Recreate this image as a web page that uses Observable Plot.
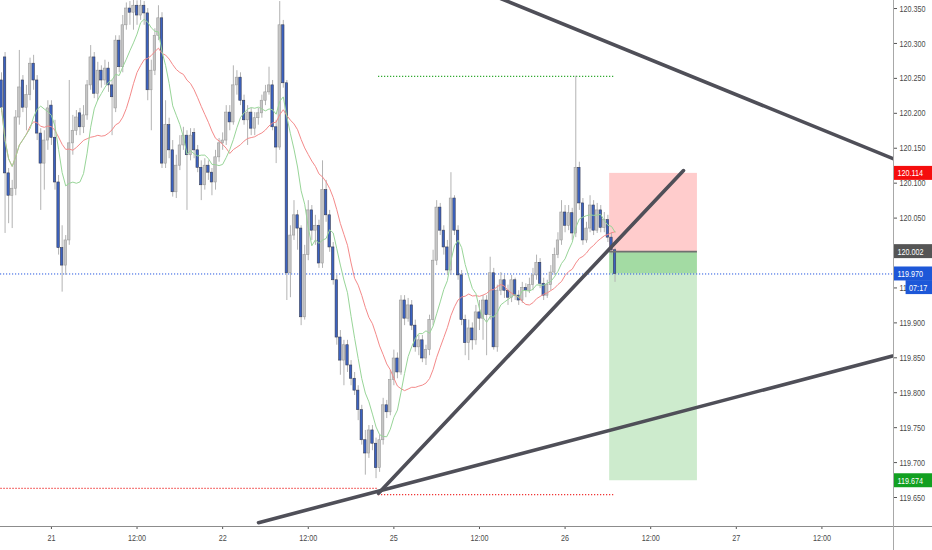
<!DOCTYPE html>
<html>
<head>
<meta charset="utf-8">
<script src="https://cdn.jsdelivr.net/npm/d3@7"></script>
<script src="https://cdn.jsdelivr.net/npm/@observablehq/plot@0.6"></script>
<style>
  html, body { margin: 0; padding: 0; background: #ffffff; }
  #chart { width: 932px; height: 550px; }
</style>
</head>
<body>
<div id="chart"></div>
<script>
// ---- 30-minute OHLC bars (bar index 0..172) ----
const open = [
120.247,120.280,120.114,120.082,120.092,120.194,120.247,120.208,120.226,120.271,
120.247,120.171,120.128,120.161,120.211,120.165,120.101,120.007,119.982,120.018,
120.157,120.175,120.200,120.180,120.197,120.240,120.280,120.228,120.261,120.247,
120.264,120.240,120.207,120.304,120.266,120.326,120.350,120.344,120.354,120.340,
120.354,120.343,120.233,120.261,120.311,120.336,120.128,120.183,120.147,120.087,
120.125,120.154,120.168,120.140,120.172,120.147,120.122,120.097,120.125,120.115,
120.101,120.137,120.157,120.161,120.201,120.187,120.240,120.251,120.218,120.190,
120.201,120.178,120.193,120.200,120.218,120.230,120.240,120.180,120.151,120.326,
120.243,119.971,120.025,120.054,120.035,119.908,119.997,120.061,120.032,120.039,
119.985,120.090,120.054,120.008,119.961,119.879,119.846,119.868,119.839,119.820,
119.803,119.775,119.732,119.713,119.746,119.727,119.692,119.732,119.782,119.772,
119.818,119.849,119.829,119.932,119.906,119.925,119.896,119.865,119.875,119.849,
119.861,119.904,119.989,120.065,120.032,120.008,119.975,120.078,120.032,119.968,
119.904,119.871,119.892,119.875,119.915,119.906,119.932,119.911,119.971,119.865,
119.946,119.961,119.946,119.936,119.961,119.939,119.932,119.950,119.946,119.954,
119.968,119.986,119.956,119.939,119.954,119.972,119.997,120.018,120.058,120.039,
120.057,120.028,120.122,120.071,120.018,120.035,120.068,120.032,120.061,120.036,
120.047,120.022,120.004];
const high = [
120.258,120.287,120.121,120.104,120.204,120.290,120.254,120.240,120.279,120.283,
120.254,120.178,120.175,120.218,120.218,120.190,120.111,120.039,120.025,120.247,
120.197,120.204,120.207,120.211,120.247,120.297,120.287,120.273,120.268,120.276,
120.273,120.247,120.311,120.311,120.340,120.358,120.360,120.362,120.361,120.362,
120.360,120.350,120.276,120.321,120.354,120.344,120.218,120.193,120.161,120.140,
120.168,120.180,120.175,120.178,120.178,120.154,120.132,120.135,120.132,120.121,
120.147,120.164,120.172,120.211,120.211,120.268,120.261,120.258,120.226,120.211,
120.207,120.201,120.207,120.226,120.240,120.266,120.247,120.190,120.360,120.333,
120.247,120.039,120.075,120.061,120.039,120.011,120.075,120.068,120.054,120.047,
120.132,120.104,120.061,120.015,119.968,119.889,119.875,119.875,119.846,119.829,
119.810,119.782,119.746,119.753,119.753,119.735,119.739,119.792,119.789,119.832,
119.861,119.857,119.939,119.939,119.935,119.932,119.904,119.882,119.882,119.868,
119.911,120.004,120.075,120.071,120.039,120.018,120.115,120.082,120.039,119.975,
119.911,119.904,119.900,119.925,119.932,119.939,119.939,119.994,119.978,119.954,
119.972,119.968,119.954,119.968,119.964,119.946,119.958,119.956,119.964,119.978,
119.997,119.992,119.964,119.961,119.982,120.007,120.029,120.075,120.068,120.068,
120.064,120.253,120.130,120.078,120.044,120.082,120.075,120.071,120.068,120.058,
120.054,120.029,120.007];
const low = [
120.201,120.028,120.042,120.035,120.082,120.183,120.201,120.175,120.218,120.233,
120.161,120.061,120.090,120.147,120.154,120.090,119.997,119.944,119.968,120.011,
120.140,120.168,120.168,120.171,120.190,120.233,120.221,120.218,120.236,120.240,
120.230,120.168,120.201,120.258,120.258,120.319,120.326,120.319,120.326,120.333,
120.326,120.218,120.175,120.254,120.304,120.121,120.121,120.135,120.080,120.078,
120.118,120.147,120.061,120.132,120.135,120.115,120.075,120.090,120.104,120.082,
120.090,120.130,120.147,120.154,120.175,120.183,120.226,120.211,120.183,120.154,
120.168,120.168,120.183,120.193,120.211,120.226,120.175,120.128,120.147,120.236,
119.932,119.936,120.018,120.004,119.896,119.904,119.989,120.018,120.011,119.978,
119.978,120.044,120.001,119.954,119.868,119.825,119.810,119.829,119.810,119.796,
119.760,119.725,119.682,119.706,119.717,119.677,119.686,119.725,119.763,119.767,
119.810,119.820,119.825,119.896,119.901,119.889,119.858,119.853,119.843,119.839,
119.853,119.896,119.982,120.025,119.997,119.968,119.968,120.025,119.961,119.896,
119.853,119.846,119.861,119.868,119.889,119.875,119.853,119.904,119.861,119.858,
119.939,119.935,119.925,119.929,119.932,119.925,119.928,119.936,119.942,119.946,
119.961,119.949,119.932,119.935,119.946,119.968,119.992,120.011,120.029,120.032,
120.018,120.022,120.061,120.011,120.014,120.029,120.025,120.028,120.029,120.029,
120.015,119.997,119.958];
const close = [
120.208,120.114,120.082,120.092,120.194,120.237,120.208,120.226,120.271,120.247,
120.171,120.128,120.161,120.207,120.165,120.101,120.007,119.982,120.018,120.157,
120.175,120.194,120.180,120.197,120.240,120.280,120.228,120.261,120.247,120.264,
120.240,120.223,120.304,120.266,120.326,120.350,120.344,120.354,120.340,120.354,
120.343,120.233,120.261,120.311,120.336,120.128,120.183,120.147,120.087,120.125,
120.154,120.168,120.140,120.168,120.147,120.122,120.097,120.125,120.115,120.101,
120.137,120.157,120.161,120.201,120.187,120.240,120.251,120.218,120.190,120.201,
120.178,120.193,120.200,120.218,120.230,120.240,120.180,120.151,120.326,120.243,
119.971,120.025,120.054,120.035,119.908,119.997,120.061,120.032,120.039,119.985,
120.090,120.054,120.008,119.961,119.879,119.846,119.868,119.839,119.820,119.803,
119.775,119.732,119.713,119.746,119.727,119.692,119.732,119.782,119.772,119.818,
119.849,119.829,119.932,119.906,119.925,119.896,119.865,119.875,119.849,119.861,
119.904,119.989,120.065,120.032,120.008,119.975,120.078,120.032,119.968,119.904,
119.871,119.892,119.875,119.915,119.906,119.932,119.911,119.971,119.865,119.946,
119.961,119.946,119.936,119.961,119.939,119.932,119.950,119.946,119.954,119.968,
119.986,119.956,119.939,119.954,119.972,119.997,120.018,120.058,120.039,120.057,
120.028,120.122,120.071,120.018,120.035,120.068,120.032,120.061,120.036,120.047,
120.022,120.004,119.970];

// ---- axis ticks ----
const xTickBars = [14, 38, 62, 86, 110, 134, 158, 182, 206, 230];
const xTickLabels = ["21", "12:00", "22", "12:00", "25", "12:00", "26", "12:00", "27", "12:00"];
const yTicks = [119.65, 119.70, 119.75, 119.80, 119.85, 119.90, 119.95, 120.00, 120.05, 120.10, 120.15, 120.20, 120.25, 120.30, 120.35];

// ---- drawings: trend lines (bar index, price) ----
const trendUpper = [{bar: 130, price: 120.385}, {bar: 262, price: 120.110}];
const trendRising = [{bar: 105.7, price: 119.656}, {bar: 191.2, price: 120.118}];
const trendLower = [{bar: 72.05, price: 119.614}, {bar: 262, price: 119.869}];

// ---- horizontal level lines ----
const levelHigh = [{price: 120.253, from: 105.7, to: 172.1}];
const levelLow = [{price: 119.663, from: -1, to: 105.7}, {price: 119.654, from: 105.7, to: 172.1}];
const lastPrice = 119.970;

// ---- short position tool ----
const posFrom = 170.5, posTo = 195.1;
const stopPrice = 120.114, entryPrice = 120.002, targetPrice = 119.674;

// ---- price tags on the axis ----
const tagPrices = [120.114, 120.002, 119.970, 119.674];
const tagColors = ["#f50d0d", "#555555", "#1d57d8", "#12a021"];
const countdown = {price: 119.9505, text: "07:17"};

const bars = open.map((o, i) => ({i, open: o, high: high[i], low: low[i], close: close[i], up: close[i] >= o}));
const upBars = bars.filter(d => d.up);
const downBars = bars.filter(d => !d.up);

const xMin = -0.28, xMax = 250.07, xOuter = 261.5;
const half = 0.0100;
const tags = tagPrices.map((p, k) => ({price: p, text: p.toFixed(3), color: tagColors[k]}));
const labelMap = new Map(xTickBars.map((b, k) => [b, xTickLabels[k]]));

const chart = Plot.plot({
  width: 932,
  height: 550,
  marginLeft: 0,
  marginRight: 39,
  marginTop: 0,
  marginBottom: 24,
  style: {fontFamily: "'Liberation Sans', Arial, sans-serif", fontSize: "9.5px", background: "#ffffff", color: "#4a4a4a"},
  x: {domain: [xMin, xMax]},
  y: {domain: [119.6085, 120.3615]},
  marks: [
    // position tool
    Plot.rect([0], {x1: posFrom, x2: posTo, y1: entryPrice, y2: stopPrice, fill: "#ffcccc"}),
    Plot.rect([0], {x1: posFrom, x2: posTo, y1: targetPrice, y2: lastPrice, fill: "#cdebcd"}),
    Plot.rect([0], {x1: posFrom, x2: posTo, y1: lastPrice, y2: entryPrice, fill: "#a3dba3"}),
    // last price line
    Plot.ruleY([lastPrice], {stroke: "#2458e0", strokeWidth: 1, strokeDasharray: "1.2,1.8"}),
    // level lines
    Plot.ruleY(levelHigh, {y: "price", x1: "from", x2: "to", stroke: "#2ea82e", strokeWidth: 1.2, strokeDasharray: "1.2,1.8", clip: true}),
    Plot.ruleY(levelLow, {y: "price", x1: "from", x2: "to", stroke: "#f03030", strokeWidth: 1.2, strokeDasharray: "1.2,1.8", clip: true}),
    // candles
    Plot.ruleX(bars, {x: "i", y1: "low", y2: "high", stroke: "#b3b3b3", strokeWidth: 1, clip: true}),
    Plot.rect(upBars, {x1: d => d.i - 0.34, x2: d => d.i + 0.34, y1: "open", y2: "close", fill: "#c6c6c6", stroke: "#9c9c9c", strokeWidth: 0.6, clip: true}),
    Plot.rect(downBars, {x1: d => d.i - 0.34, x2: d => d.i + 0.34, y1: "open", y2: "close", fill: "#3b62c0", stroke: "#3a3f55", strokeWidth: 0.6, clip: true}),
    // moving averages
    Plot.lineY(bars, Plot.windowY({k: 20, anchor: "end", strict: false}, {x: "i", y: "close", stroke: "#f48a8a", strokeWidth: 1, clip: true})),
    Plot.lineY(bars, Plot.windowY({k: 8, anchor: "end", strict: false}, {x: "i", y: "close", stroke: "#98d598", strokeWidth: 1, clip: true})),
    // entry line of the position tool
    Plot.ruleY([entryPrice], {x1: posFrom, x2: posTo, stroke: "#707070", strokeWidth: 1.6}),
    // trend lines
    Plot.line(trendUpper, {x: "bar", y: "price", stroke: "#4f4f58", strokeWidth: 3.6, clip: true}),
    Plot.line(trendRising, {x: "bar", y: "price", stroke: "#4f4f58", strokeWidth: 3.6, strokeLinecap: "round", clip: true}),
    Plot.line(trendLower, {x: "bar", y: "price", stroke: "#4f4f58", strokeWidth: 3.6, strokeLinecap: "round", clip: true}),
    // axes
    Plot.axisY(yTicks, {anchor: "right", tickFormat: d => d.toFixed(3), tickSize: 3, tickPadding: 3, stroke: "#555", fill: "#4a4a4a"}),
    Plot.axisX(xTickBars, {anchor: "bottom", tickFormat: d => labelMap.get(d), tickSize: 3, tickPadding: 5, stroke: "#555", fill: "#4a4a4a"}),
    // price tags
    Plot.rect(tags, {x1: xMax, x2: xOuter, y1: d => d.price - half, y2: d => d.price + half, fill: d => d.color}),
    Plot.text(tags, {x: xMax, y: "price", text: "text", textAnchor: "start", dx: 4, fill: "#ffffff"}),
    Plot.rect([countdown], {x1: 253.6, x2: xOuter, y1: d => d.price - half, y2: d => d.price + half, fill: "#1d57d8"}),
    Plot.text([countdown], {x: 253.6, y: "price", text: "text", textAnchor: "start", dx: 3, fill: "#ffffff"})
  ]
});

// axis frame lines spanning the whole picture, as in the reference
const svg = d3.select(chart);
svg.append("line").attr("x1", 0).attr("x2", 932).attr("y1", 526.5).attr("y2", 526.5).attr("stroke", "#8c8c8c").attr("stroke-width", 1);
svg.append("line").attr("x1", 893.5).attr("x2", 893.5).attr("y1", 0).attr("y2", 550).attr("stroke", "#a8a8a8").attr("stroke-width", 1);
document.getElementById("chart").appendChild(chart);

// narrow the axis lettering, as the reference uses a condensed face
svg.selectAll("text").each(function () {
  const w = this.getComputedTextLength();
  if (w > 0) {
    this.setAttribute("textLength", (w * 0.76).toFixed(2));
    this.setAttribute("lengthAdjust", "spacingAndGlyphs");
  }
});
</script>
</body>
</html>
